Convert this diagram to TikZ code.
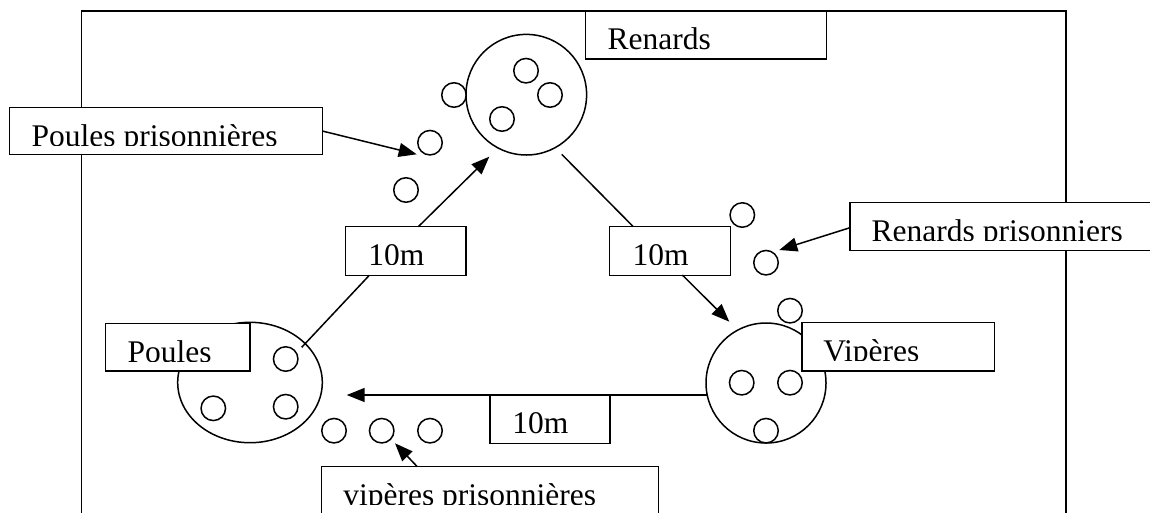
\documentclass[tikz,border=0pt]{standalone}
\usepackage{fontspec}
\setmainfont{Liberation Serif}
\usetikzlibrary{arrows.meta,shapes.geometric}

\newcommand\etiq[7]{%
  \node[box, minimum width=#4pt, minimum height=#5pt] (#1) at (#2,#3) {};
  \begin{scope}
    \clip (#2,#3) rectangle ({#2+#4},{#3+38});
    \node[lbl] (#1-t) at (#6,{#3+38.9}) {#7};
  \end{scope}}

\begin{document}
\begin{tikzpicture}[x=1pt,y=-1pt,line width=1.5pt,
  box/.style={draw,fill=white,rectangle,inner sep=0pt,outer sep=0pt,anchor=north west},
  lbl/.style={anchor=base west,inner sep=0pt,outer sep=0pt,font=\fontsize{31.5}{36}\selectfont},
  pion/.style={draw,circle,minimum size=24.5pt,inner sep=0pt,outer sep=0pt},
  camp/.style={draw,circle,minimum size=120.6pt,inner sep=0pt,outer sep=0pt},
  fleche/.style={-{Triangle[length=18pt,width=14pt]}},
  trait/.style={-}]
\useasboundingbox (0,0) rectangle (1150,512);
\clip (0,0) rectangle (1150,512);

% terrain
\node[draw,rectangle,inner sep=0pt,outer sep=0pt,anchor=north west,
      minimum width=984.3pt,minimum height=600pt] (terrain) at (81.7,11) {};

% camp des renards
\node[camp] (renC) at (526.3,94.7) {};
\node[pion] (r1) at (526,70.7) {};
\node[pion] (r2) at (550,95) {};
\node[pion] (r3) at (502,119) {};
% poules prisonnieres
\node[pion] (pp1) at (454,95) {};
\node[pion] (pp2) at (430,142.7) {};
\node[pion] (pp3) at (406,190) {};

% camp des viperes
\node[camp,minimum size=120pt] (vipC) at (766,383) {};
\node[pion] (v1) at (741.7,382.7) {};
\node[pion] (v2) at (790,382.7) {};
\node[pion] (v3) at (766,430.7) {};
% renards prisonniers
\node[pion] (rp1) at (742.3,215) {};
\node[pion] (rp2) at (766,262.7) {};
\node[pion] (rp3) at (790,310.7) {};

% camp des poules
\node[draw,ellipse,minimum width=144.6pt,minimum height=120.4pt,inner sep=0pt,outer sep=0pt] (pouC) at (250,382.5) {};
\node[pion] (p1) at (285.7,359) {};
\node[pion] (p2) at (213.3,408.3) {};
\node[pion] (p3) at (285.7,406.7) {};
% viperes prisonnieres
\node[pion] (vp1) at (334,430.7) {};
\node[pion] (vp2) at (381.7,430.7) {};
\node[pion] (vp3) at (430,430.7) {};

% etiquettes
\etiq{pp}{9.7}{107.3}{312.6}{47.4}{31.7}{Poules prisonnières}
\etiq{ren}{585.7}{11}{240.6}{48}{607.7}{Renards}
\etiq{rp}{850}{202.7}{350}{48}{871.7}{Renards prisonniers}
\etiq{vip}{802}{322.7}{192.3}{48.3}{823.3}{Vipères}
\etiq{pou}{105.7}{323.3}{144.3}{47.7}{127.7}{Poules}
\etiq{d1}{345.7}{226.7}{120.3}{48.6}{368.3}{10m}
\etiq{d2}{609.5}{226.7}{120.8}{48.6}{632.7}{10m}
\etiq{d3}{490}{395}{120}{48.3}{512.3}{10m}
\etiq{vp}{321.7}{466.7}{336.6}{80}{343.3}{vipères prisonnières}

% extremites des liaisons
\coordinate (a1) at (416.7,154.3);
\coordinate (s2) at (418.3,226.7);
\coordinate (a2) at (489.3,156.7);
\coordinate (s3) at (561.7,154.3);
\coordinate (e3) at (633.3,226.7);
\coordinate (s4) at (682.3,275);
\coordinate (a4) at (729.3,321.7);
\coordinate (s5) at (707,395);
\coordinate (a5) at (346.7,395);
\coordinate (s6) at (369.3,275.3);
\coordinate (e6) at (301.7,347.3);
\coordinate (s7) at (850,227.7);
\coordinate (a7) at (779.3,250);
\coordinate (s8) at (417.3,466.7);
\coordinate (a8) at (395,443.3);

\draw[fleche] (pp.east) -- (a1);
\draw[fleche] (s2) -- (a2);
\draw[trait] (s3) -- (e3);
\draw[fleche] (s4) -- (a4);
\draw[fleche] (s5) -- (a5);
\draw[trait] (s6) -- (e6);
\draw[fleche] (s7) -- (a7);
\draw[fleche] (s8) -- (a8);
\end{tikzpicture}
\end{document}
